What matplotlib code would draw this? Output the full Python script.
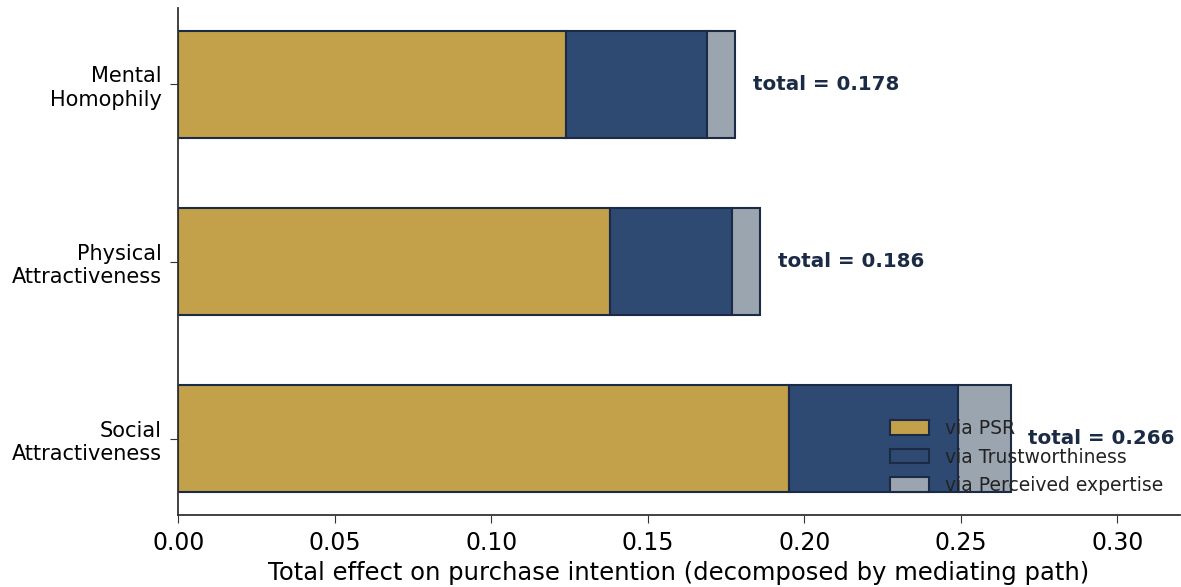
import numpy as np
import matplotlib
matplotlib.use('Agg')
import matplotlib.pyplot as plt

categories = ['Social\nAttractiveness', 'Physical\nAttractiveness', 'Mental\nHomophily']
via_psr = [0.195, 0.138, 0.124]
via_trust = [0.054, 0.039, 0.045]
via_expertise = [0.017, 0.009, 0.009]
totals = [0.266, 0.186, 0.178]

c_psr = '#c2a14a'
c_trust = '#2e4a72'
c_exp = '#9ba5b0'
edge = '#1b2a45'

fig, ax = plt.subplots(figsize=(11.81, 5.87), dpi=100)
y = np.arange(len(categories))
psr = np.array(via_psr)
trust = np.array(via_trust)

ax.barh(y, psr, height=0.6, color=c_psr, edgecolor=edge, linewidth=1.5, label='via PSR')
ax.barh(y, trust, left=psr, height=0.6, color=c_trust, edgecolor=edge, linewidth=1.5,
        label='via Trustworthiness')
ax.barh(y, via_expertise, left=psr + trust, height=0.6, color=c_exp, edgecolor=edge,
        linewidth=1.5, label='via Perceived expertise')

for yi, t in zip(y, totals):
    ax.text(t + 0.0055, yi, 'total = %.3f' % t, va='center', ha='left',
            fontsize=14.3, fontweight='bold', color=edge)

ax.set_yticks(y)
ax.set_yticklabels(categories, fontsize=15)
ax.set_xlim(0, 0.32)
ax.set_xticks([0, 0.05, 0.10, 0.15, 0.20, 0.25, 0.30])
ax.set_xticklabels(['0.00', '0.05', '0.10', '0.15', '0.20', '0.25', '0.30'], fontsize=17)
ax.set_xlabel('Total effect on purchase intention (decomposed by mediating path)', fontsize=17.5)

for s in ['top', 'right']:
    ax.spines[s].set_visible(False)
for s in ['left', 'bottom']:
    ax.spines[s].set_color('#333333')
    ax.spines[s].set_linewidth(1.3)
ax.tick_params(colors='#333333', labelcolor='black')
ax.tick_params(axis='y', length=6, pad=6)
ax.tick_params(axis='x', length=6, pad=6)

ax.legend(loc='lower right', frameon=False, fontsize=13.5, bbox_to_anchor=(1.0, 0.006),
          handlelength=2.05, handleheight=0.8, handletextpad=0.85, labelspacing=0.5,
          labelcolor='#222222')

plt.subplots_adjust(left=0.151, right=0.999, top=0.986, bottom=0.123)
plt.savefig('out.png', dpi=100)
